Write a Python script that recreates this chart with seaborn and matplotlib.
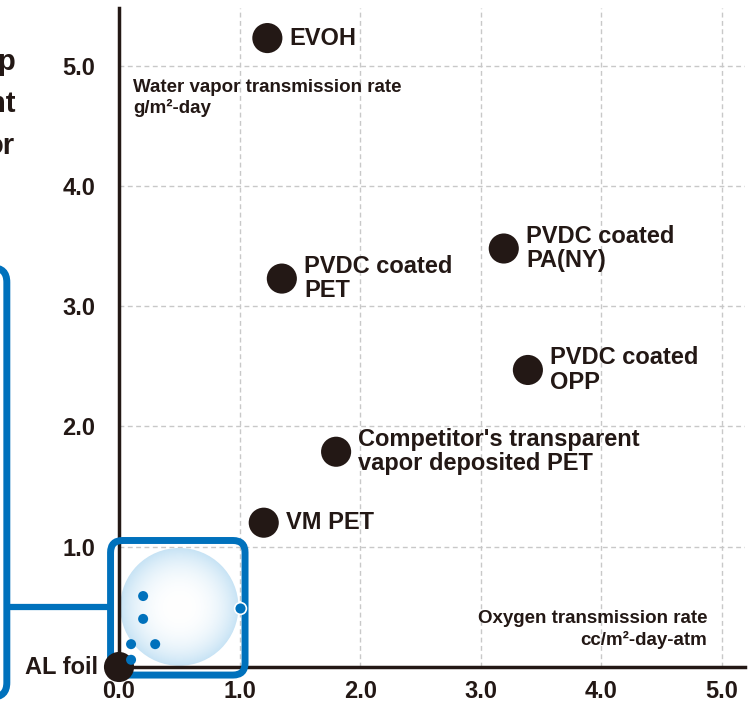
import numpy as np
import matplotlib
matplotlib.use("Agg")
import matplotlib.pyplot as plt
from matplotlib.patches import FancyBboxPatch, Circle
import seaborn as sns
import pandas as pd

# ---------------- DATA ----------------
films = ["EVOH", "PVDC coated\nPET", "PVDC coated\nPA(NY)", "PVDC coated\nOPP",
         "Competitor's transparent\nvapor deposited PET", "VM PET", "AL foil"]
otr = [1.23, 1.35, 3.19, 3.39, 1.80, 1.20, 0.0]
wvtr = [5.23, 3.23, 3.48, 2.47, 1.79, 1.20, 0.0]

gl_otr = [0.20, 0.20, 0.10, 0.30, 0.10, 1.0]
gl_wvtr = [0.59, 0.40, 0.19, 0.19, 0.06, 0.49]

xticks = [0, 1, 2, 3, 4, 5]
yticks = [1, 2, 3, 4, 5]

INK = "#231815"
BLUE = "#0071bc"

df = pd.DataFrame({"film": films, "otr": otr, "wvtr": wvtr})
gl = pd.DataFrame({"otr": gl_otr, "wvtr": gl_wvtr})

# ---------------- STYLE ----------------
sns.set_style("white")
plt.rcParams["font.family"] = ["Liberation Sans", "DejaVu Sans"]
plt.rcParams["font.weight"] = "bold"

fig = plt.figure(figsize=(7.53, 7.09), dpi=100)
ax = fig.add_axes([119 / 753, 42 / 709, 626 / 753, 659 / 709])

# ---------------- PLOT ----------------
sns.scatterplot(data=df, x="otr", y="wvtr", s=470, color=INK, edgecolor="none",
                ax=ax, zorder=4, clip_on=False)
sns.scatterplot(data=gl.iloc[:-1], x="otr", y="wvtr", s=52, color=BLUE,
                edgecolor="none", ax=ax, zorder=6, clip_on=False)
sns.scatterplot(data=gl.iloc[-1:], x="otr", y="wvtr", s=72, color=BLUE,
                edgecolor="white", linewidth=1.2, ax=ax, zorder=6, clip_on=False)

# soft blue bubble behind the GL film points
yy, xx = np.mgrid[-1:1:300j, -1:1:300j]
rr = np.clip(np.sqrt(xx ** 2 + yy ** 2), 0, 1)
t = rr ** 2.6
edge = np.array([0.78, 0.89, 0.96])
img = np.ones((300, 300, 3)) * (1 - t[..., None]) + edge * t[..., None]
im = ax.imshow(img, extent=(0.01, 0.99, 0.01, 0.99), aspect="auto", zorder=1.5,
               origin="lower")
im.set_clip_path(Circle((0.5, 0.5), 0.49, transform=ax.transData))
ax.set_xlim(0, 5.19)
ax.set_ylim(0, 5.48)

# blue frame around low-barrier corner + link to the left panel
ax.add_patch(FancyBboxPatch((-0.07, -0.067), 1.115, 1.119,
                            boxstyle="round,pad=0,rounding_size=0.1",
                            fc="none", ec=BLUE, lw=5, zorder=3, clip_on=False))
ax.add_patch(FancyBboxPatch((-3.0, -0.25), 2.07, 3.57,
                            boxstyle="round,pad=0,rounding_size=0.12",
                            fc="none", ec=BLUE, lw=5, zorder=3, clip_on=False))
ax.plot([-0.93, -0.07], [0.495, 0.495], color=BLUE, lw=4.5, zorder=3,
        clip_on=False, solid_capstyle="butt")

# point labels
for name, x, y in zip(films, otr, wvtr):
    if name == "AL foil":
        ax.annotate(name, (x, y), xytext=(-15, 0), textcoords="offset points",
                    ha="right", va="center", fontsize=17, fontweight="bold",
                    color=INK, zorder=7, annotation_clip=False)
    else:
        ax.annotate(name, (x, y), xytext=(16, 0), textcoords="offset points",
                    ha="left", va="center", fontsize=17, fontweight="bold",
                    color=INK, linespacing=1.08, zorder=7)

ax.text(0.116, 4.89, "Water vapor transmission rate\ng/m²-day", ha="left", va="top",
        fontsize=13.5, fontweight="bold", color=INK, linespacing=1.22)
ax.text(4.876, 0.47, "Oxygen transmission rate\ncc/m²-day-atm", ha="right", va="top",
        fontsize=13.5, fontweight="bold", color=INK, linespacing=1.22,
        multialignment="right")

# text cut off at the left edge of the picture
for s, yb in zip(["p", "nt", "or"], [70, 112, 154]):
    fig.text(15 / 753, 1 - yb / 709, s, ha="right", va="baseline", fontsize=21,
             fontweight="bold", color=INK)

# ---------------- AXES ----------------
ax.set_xticks(xticks)
ax.set_yticks(yticks)
ax.set_xticklabels([f"{v:.1f}" for v in xticks])
ax.set_yticklabels([f"{v:.1f}" for v in yticks])
ax.tick_params(direction="in", length=8.6, width=2.2, color=INK, labelcolor=INK,
               labelsize=17)
ax.tick_params(axis="y", pad=17)
ax.tick_params(axis="x", pad=9)
for lab in ax.get_xticklabels() + ax.get_yticklabels():
    lab.set_fontweight("bold")
for side in ["top", "right"]:
    ax.spines[side].set_visible(False)
for side in ["left", "bottom"]:
    ax.spines[side].set_linewidth(2.5)
    ax.spines[side].set_color(INK)
ax.set_xlabel("")
ax.set_ylabel("")
ax.grid(True, color="#c8c8c8", linestyle=(0, (3.5, 2.5)), lw=1.0)
ax.set_axisbelow(True)

fig.savefig("out.png", dpi=100)
